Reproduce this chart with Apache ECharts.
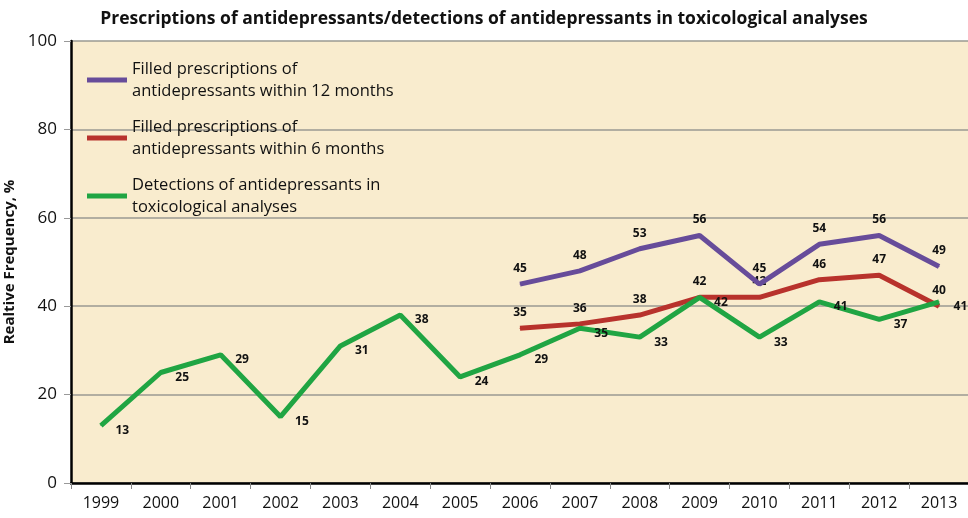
<!DOCTYPE html>
<html>
<head>
<meta charset="utf-8">
<script src="https://cdn.jsdelivr.net/npm/echarts@6/dist/echarts.min.js"></script>
<style>
html,body{margin:0;padding:0;background:#ffffff;}
#chart{width:968px;height:518px;}
</style>
</head>
<body>
<div id="chart"></div>
<script>
const years = ['1999','2000','2001','2002','2003','2004','2005','2006','2007','2008','2009','2010','2011','2012','2013'];
const rx12 = [null,null,null,null,null,null,null,45,48,53,56,45,54,56,49];
const rx6 = [null,null,null,null,null,null,null,35,36,38,42,42,46,47,40];
const detections = [13,25,29,15,31,38,24,29,35,33,42,33,41,37,41];
const yTicks = [0,20,40,60,80,100];
const seriesNames = [
  'Filled prescriptions of\nantidepressants within 12 months',
  'Filled prescriptions of\nantidepressants within 6 months',
  'Detections of antidepressants in\ntoxicological analyses'
];
const title = 'Prescriptions of antidepressants/detections of antidepressants in toxicological analyses';
const yName = 'Realtive Frequency, %';

const font = '"Open Sans", "Liberation Sans", sans-serif';
const chart = echarts.init(document.getElementById('chart'), null, {renderer:'canvas'});
const lblTop = {show:true, position:'top', distance:9, color:'#111', fontWeight:'bold', fontSize:12, fontFamily:font};
chart.setOption({
  animation:false,
  backgroundColor:'#ffffff',
  title:{text:title, left:'center', top:5, textStyle:{fontFamily:font, fontWeight:'bold', fontSize:17.5, color:'#111'}},
  grid:{left:71, top:41, width:898, height:442, show:true, backgroundColor:'#f9ecce', borderWidth:0,
        containLabel:false, outerBoundsMode:'none'},
  legend:{
    orient:'vertical', left:82, top:42, itemWidth:40, itemHeight:5, itemGap:-8,
    icon:'rect',
    textStyle:{fontFamily:font, fontSize:16.5, color:'#111', lineHeight:22, padding:[22,0,0,0]},
    data:seriesNames
  },
  xAxis:{
    type:'category', data:years, boundaryGap:true,
    axisLine:{lineStyle:{color:'#000', width:2.5}},
    axisTick:{show:true, alignWithLabel:false, length:6, lineStyle:{color:'#888'}},
    axisLabel:{fontFamily:font, fontSize:16, color:'#111', margin:12}
  },
  yAxis:{
    type:'value', min:yTicks[0], max:yTicks[yTicks.length-1], interval:20,
    name:yName, nameLocation:'middle', nameGap:54, nameRotate:90,
    nameTextStyle:{fontFamily:font, fontWeight:'bold', fontSize:15, color:'#111'},
    axisLine:{show:true, lineStyle:{color:'#000', width:2.5}},
    axisTick:{show:true, length:7, lineStyle:{color:'#999'}},
    axisLabel:{fontFamily:font, fontSize:17, color:'#111', margin:14},
    splitLine:{show:true, lineStyle:{color:'#9a9a92', width:1.5}}
  },
  series:[
    {name:seriesNames[0], type:'line', data:rx12, symbol:'circle', symbolSize:1, showSymbol:true,
     itemStyle:{color:'#674c9a'}, color:'#674c9a',
     lineStyle:{width:5, color:'#674c9a'}, label:lblTop, z:3},
    {name:seriesNames[1], type:'line', data:rx6, symbol:'circle', symbolSize:1, showSymbol:true,
     itemStyle:{color:'#b8322c'}, color:'#b8322c',
     lineStyle:{width:5, color:'#b8322c'}, label:lblTop, z:2},
    {name:seriesNames[2], type:'line', data:detections, symbol:'circle', symbolSize:1, showSymbol:true,
     itemStyle:{color:'#20a543'}, color:'#20a543',
     lineStyle:{width:5, color:'#20a543'},
     label:{show:true, position:'right', distance:14, offset:[0,5], color:'#111', fontWeight:'bold', fontSize:12, fontFamily:font}, z:4}
  ]
});
</script>
</body>
</html>
